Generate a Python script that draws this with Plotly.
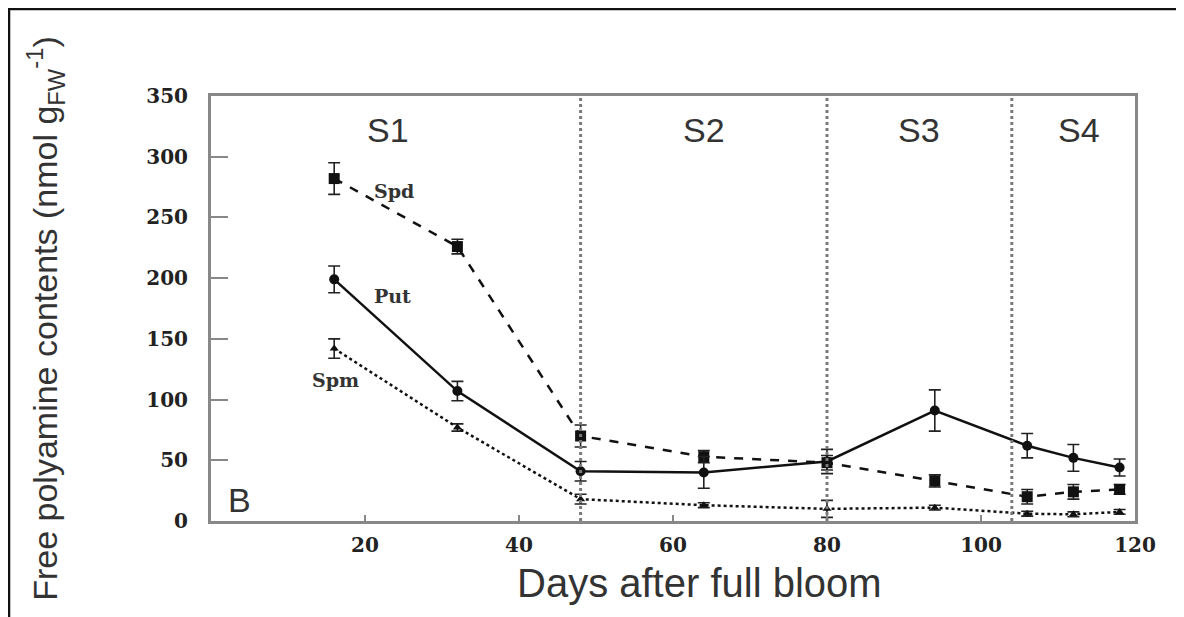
import plotly.graph_objects as go

# Data (days after full bloom)
days = [16, 32, 48, 64, 80, 94, 106, 112, 118]
put = [199, 107, 41, 40, 49, 91, 62, 52, 44]
put_err = [11, 8, 8, 13, 10, 17, 10, 11, 7]
spd = [282, 226, 70, 53, 48, 33, 20, 24, 26]
spd_err = [13, 6, 9, 5, 6, 5, 6, 6, 4]
spm = [142, 77, 18, 13, 10, 11, 6, 5.5, 7.5]
spm_err = [8, 3, 4, 2, 7, 2, 2, 2, 2]

stage_bounds = [48, 80, 104]
stage_labels = ["S1", "S2", "S3", "S4"]
stage_label_x = [23, 64, 92, 112.7]

x_ticks = [20, 40, 60, 80, 100, 120]
y_ticks = [0, 50, 100, 150, 200, 250, 300, 350]

fig = go.Figure()

def add_series(y, err, symbol, dash, size, name):
    fig.add_trace(go.Scatter(
        x=days, y=y, mode="lines+markers", name=name,
        line=dict(color="#111111", width=2.5, dash=dash),
        marker=dict(symbol=symbol, size=size, color="#111111"),
        error_y=dict(type="data", array=err, visible=True, color="#222222",
                     thickness=1.6, width=6),
        showlegend=False,
    ))

add_series(spd, spd_err, "square", "dash", 11, "Spd")
add_series(put, put_err, "circle", "solid", 10, "Put")
add_series(spm, spm_err, "triangle-up", "dot", 8, "Spm")

shapes = []
for b in stage_bounds:
    shapes.append(dict(type="line", xref="x", yref="paper", x0=b, x1=b, y0=0, y1=1,
                       line=dict(color="#7a7a7a", width=3, dash="dot")))
# outer figure border (left and top)
shapes.append(dict(type="path", xref="paper", yref="paper",
                   path="M -0.2186,-0.23 L -0.2186,1.2047 L 1.06,1.2047",
                   line=dict(color="#111111", width=2.5)))

sans = "Liberation Sans, Arial"
serif = "DejaVu Serif, Liberation Serif"
annotations = []
for lab, lx in zip(stage_labels, stage_label_x):
    annotations.append(dict(x=lx, y=322, xref="x", yref="y", text=lab, showarrow=False,
                            xanchor="center", yanchor="middle",
                            font=dict(family=sans, size=34, color="#333333")))
lab_font = dict(family=serif, size=19, color="#333333", weight="bold")
annotations += [
    dict(x=23.8, y=272, xref="x", yref="y", text="Spd", showarrow=False, font=lab_font,
         xanchor="center", yanchor="middle"),
    dict(x=23.6, y=185, xref="x", yref="y", text="Put", showarrow=False, font=lab_font,
         xanchor="center", yanchor="middle"),
    dict(x=16.2, y=116, xref="x", yref="y", text="Spm", showarrow=False, font=lab_font,
         xanchor="center", yanchor="middle"),
    dict(x=3.7, y=17, xref="x", yref="y", text="B", showarrow=False,
         xanchor="center", yanchor="middle",
         font=dict(family=sans, size=34, color="#333333")),
    dict(x=-0.1797, y=0.478, xref="paper", yref="paper",
         text="Free polyamine contents (nmol g<sub>FW</sub><sup>-1</sup>)",
         textangle=-90, showarrow=False, xanchor="center", yanchor="middle",
         font=dict(family=sans, size=34, color="#333333")),
    dict(x=0.529, y=-0.147, xref="paper", yref="paper",
         text="Days after full bloom", showarrow=False, xanchor="center", yanchor="middle",
         font=dict(family=sans, size=40, color="#333333")),
]

tick_font = dict(family=serif, size=20, color="#222222", weight="bold")
fig.update_layout(
    width=1176, height=609,
    margin=dict(l=203, r=49, t=88, b=96),
    paper_bgcolor="white", plot_bgcolor="white",
    shapes=shapes, annotations=annotations,
    xaxis=dict(range=[0, 120], tickvals=x_ticks, ticktext=[str(v) for v in x_ticks],
               ticks="inside", ticklen=6, tickwidth=2, tickcolor="#888888",
               showline=True, mirror=True, linecolor="#888888", linewidth=3,
               showgrid=False, zeroline=False,
               tickfont=tick_font, ticklabelstandoff=4),
    yaxis=dict(range=[0, 350], tickvals=y_ticks, ticktext=[str(v) for v in y_ticks],
               ticks="inside", ticklen=17, tickwidth=2, tickcolor="#888888",
               showline=True, mirror=True, linecolor="#888888", linewidth=3,
               showgrid=False, zeroline=False,
               tickfont=tick_font, ticklabelstandoff=16),
)

fig.write_html("out.html")
